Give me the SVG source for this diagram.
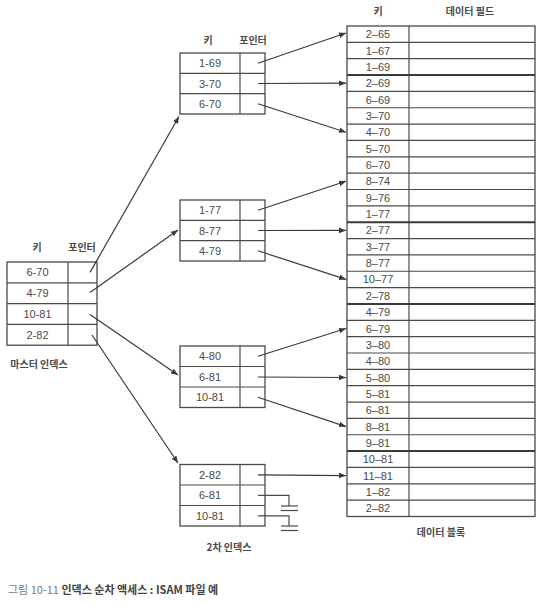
<svg xmlns="http://www.w3.org/2000/svg" width="541" height="604" viewBox="0 0 541 604">
<defs>
<style>
text{font-family:"Noto Sans CJK KR","Liberation Sans",sans-serif;fill:#4a4a4a;}
.n{font-family:"Liberation Sans","Noto Sans CJK KR",sans-serif;font-size:11px;text-anchor:middle;}
.h{font-size:10px;text-anchor:middle;font-weight:bold;}
.box{fill:#fff;stroke:#4a4a4a;stroke-width:1.3;}
.ln{stroke:#4a4a4a;stroke-width:1.2;fill:none;}
.thick{stroke:#3a3a3a;stroke-width:2;}
.ar{stroke:#3a3a3a;stroke-width:1.2;fill:none;marker-end:url(#ah);}
</style>
<marker id="ah" viewBox="0 0 10 10" refX="10" refY="5" markerWidth="7" markerHeight="7" markerUnits="userSpaceOnUse" orient="auto"><path d="M0,1 L10,5 L0,9 z" fill="#3a3a3a"/></marker>
</defs>
<rect width="541" height="604" fill="#fff"/>

<g id="master">
<text class="h" x="37" y="251">키</text>
<text class="h" x="82" y="251">포인터</text>
<rect class="box" x="7" y="262" width="90" height="83.2"/>
<line class="ln" x1="68" y1="262" x2="68" y2="345.2"/>
<line class="ln" x1="7" y1="282.8" x2="97" y2="282.8"/>
<line class="ln" x1="7" y1="303.6" x2="97" y2="303.6"/>
<line class="ln" x1="7" y1="324.4" x2="97" y2="324.4"/>
<text class="n" x="37.5" y="276.4">6-70</text>
<text class="n" x="37.5" y="297.2">4-79</text>
<text class="n" x="37.5" y="318">10-81</text>
<text class="n" x="37.5" y="338.8">2-82</text>
<text class="h" x="39" y="368">마스터 인덱스</text>
</g>

<g id="sec1">
<text class="h" x="208" y="44">키</text>
<text class="h" x="253" y="44">포인터</text>
<rect class="box" x="180" y="53" width="85" height="61"/>
<line class="ln" x1="240" y1="53" x2="240" y2="114"/>
<line class="ln" x1="180" y1="73.3" x2="265" y2="73.3"/>
<line class="ln" x1="180" y1="93.6" x2="265" y2="93.6"/>
<text class="n" x="210" y="67.2">1-69</text>
<text class="n" x="210" y="87.5">3-70</text>
<text class="n" x="210" y="107.8">6-70</text>
</g>

<g id="sec2">
<rect class="box" x="180" y="200" width="85" height="61"/>
<line class="ln" x1="240" y1="200" x2="240" y2="261"/>
<line class="ln" x1="180" y1="220.3" x2="265" y2="220.3"/>
<line class="ln" x1="180" y1="240.6" x2="265" y2="240.6"/>
<text class="n" x="210" y="214.2">1-77</text>
<text class="n" x="210" y="234.5">8-77</text>
<text class="n" x="210" y="254.8">4-79</text>
</g>

<g id="sec3">
<rect class="box" x="180" y="346" width="85" height="61.5"/>
<line class="ln" x1="240" y1="346" x2="240" y2="407.5"/>
<line class="ln" x1="180" y1="366.5" x2="265" y2="366.5"/>
<line class="ln" x1="180" y1="387" x2="265" y2="387"/>
<text class="n" x="210" y="360.3">4-80</text>
<text class="n" x="210" y="380.8">6-81</text>
<text class="n" x="210" y="401.3">10-81</text>
</g>

<g id="sec4">
<rect class="box" x="180" y="464.5" width="85" height="61.5"/>
<line class="ln" x1="240" y1="464.5" x2="240" y2="526"/>
<line class="ln" x1="180" y1="485" x2="265" y2="485"/>
<line class="ln" x1="180" y1="505.5" x2="265" y2="505.5"/>
<text class="n" x="210" y="478.8">2-82</text>
<text class="n" x="210" y="499.3">6-81</text>
<text class="n" x="210" y="519.8">10-81</text>
<text class="h" x="229" y="551">2차 인덱스</text>
</g>

<g id="datablock">
<text class="h" x="378" y="15">키</text>
<text class="h" x="470" y="15">데이터 필드</text>
<rect class="box" x="347" y="26" width="188" height="490.5"/>
<line class="ln" x1="409" y1="26" x2="409" y2="516.5"/>
<g class="ln">
<line x1="347" y1="42.35" x2="535" y2="42.35"/>
<line x1="347" y1="58.7" x2="535" y2="58.7"/>
<line x1="347" y1="91.4" x2="535" y2="91.4"/>
<line x1="347" y1="107.75" x2="535" y2="107.75"/>
<line x1="347" y1="124.1" x2="535" y2="124.1"/>
<line x1="347" y1="140.45" x2="535" y2="140.45"/>
<line x1="347" y1="156.8" x2="535" y2="156.8"/>
<line x1="347" y1="173.15" x2="535" y2="173.15"/>
<line x1="347" y1="189.5" x2="535" y2="189.5"/>
<line x1="347" y1="205.85" x2="535" y2="205.85"/>
<line x1="347" y1="238.55" x2="535" y2="238.55"/>
<line x1="347" y1="254.9" x2="535" y2="254.9"/>
<line x1="347" y1="271.25" x2="535" y2="271.25"/>
<line x1="347" y1="287.6" x2="535" y2="287.6"/>
<line x1="347" y1="320.3" x2="535" y2="320.3"/>
<line x1="347" y1="336.65" x2="535" y2="336.65"/>
<line x1="347" y1="353" x2="535" y2="353"/>
<line x1="347" y1="369.35" x2="535" y2="369.35"/>
<line x1="347" y1="385.7" x2="535" y2="385.7"/>
<line x1="347" y1="402.05" x2="535" y2="402.05"/>
<line x1="347" y1="418.4" x2="535" y2="418.4"/>
<line x1="347" y1="434.75" x2="535" y2="434.75"/>
<line x1="347" y1="467.45" x2="535" y2="467.45"/>
<line x1="347" y1="483.8" x2="535" y2="483.8"/>
<line x1="347" y1="500.15" x2="535" y2="500.15"/>
</g>
<g class="thick">
<line x1="347" y1="75.05" x2="535" y2="75.05"/>
<line x1="347" y1="222.2" x2="535" y2="222.2"/>
<line x1="347" y1="303.95" x2="535" y2="303.95"/>
<line x1="347" y1="451.1" x2="535" y2="451.1"/>
</g>
<text class="n" x="378" y="38.2">2–65</text>
<text class="n" x="378" y="54.5">1–67</text>
<text class="n" x="378" y="70.9">1–69</text>
<text class="n" x="378" y="87.2">2–69</text>
<text class="n" x="378" y="103.6">6–69</text>
<text class="n" x="378" y="119.9">3–70</text>
<text class="n" x="378" y="136.3">4–70</text>
<text class="n" x="378" y="152.6">5–70</text>
<text class="n" x="378" y="169">6–70</text>
<text class="n" x="378" y="185.3">8–74</text>
<text class="n" x="378" y="201.7">9–76</text>
<text class="n" x="378" y="218">1–77</text>
<text class="n" x="378" y="234.4">2–77</text>
<text class="n" x="378" y="250.7">3–77</text>
<text class="n" x="378" y="267.1">8–77</text>
<text class="n" x="378" y="283.4">10–77</text>
<text class="n" x="378" y="299.8">2–78</text>
<text class="n" x="378" y="316.1">4–79</text>
<text class="n" x="378" y="332.5">6–79</text>
<text class="n" x="378" y="348.8">3–80</text>
<text class="n" x="378" y="365.2">4–80</text>
<text class="n" x="378" y="381.5">5–80</text>
<text class="n" x="378" y="397.9">5–81</text>
<text class="n" x="378" y="414.2">6–81</text>
<text class="n" x="378" y="430.6">8–81</text>
<text class="n" x="378" y="446.9">9–81</text>
<text class="n" x="378" y="463.3">10–81</text>
<text class="n" x="378" y="479.6">11–81</text>
<text class="n" x="378" y="496">1–82</text>
<text class="n" x="378" y="512.3">2–82</text>
<text class="h" x="441" y="536">데이터 블록</text>
</g>

<g id="connectors">
<line class="ar" x1="90" y1="272.4" x2="179" y2="116.5"/>
<line class="ar" x1="90" y1="292.5" x2="178" y2="230"/>
<line class="ar" x1="90" y1="314.5" x2="178" y2="375"/>
<line class="ar" x1="92" y1="335" x2="178" y2="463"/>
<line class="ar" x1="258" y1="63.2" x2="346" y2="33"/>
<line class="ar" x1="258" y1="83.5" x2="346" y2="83.2"/>
<line class="ar" x1="258" y1="103.8" x2="346" y2="132.3"/>
<line class="ar" x1="258" y1="210.2" x2="346" y2="181.3"/>
<line class="ar" x1="258" y1="230.5" x2="346" y2="230.4"/>
<line class="ar" x1="258" y1="250.8" x2="346" y2="279.4"/>
<line class="ar" x1="258" y1="356.3" x2="346" y2="328.5"/>
<line class="ar" x1="258" y1="377" x2="346" y2="377.5"/>
<line class="ar" x1="258" y1="397.3" x2="346" y2="426.6"/>
<line class="ar" x1="258" y1="474.8" x2="346" y2="475.6"/>
<polyline class="ln" points="258,495.3 289,495.3 289,506"/>
<line class="ln" x1="281" y1="506" x2="298" y2="506"/>
<line class="ln" x1="281" y1="510.5" x2="298" y2="510.5"/>
<polyline class="ln" points="258,515.8 289,515.8 289,526"/>
<line class="ln" x1="281" y1="526" x2="298" y2="526"/>
<line class="ln" x1="281" y1="530.5" x2="298" y2="530.5"/>
</g>

<g id="caption">
<text x="8" y="594" style="font-size:11px;fill:#777;">그림 10-11 <tspan style="font-weight:bold;fill:#444;"> 인덱스 순차 액세스 : ISAM 파일 예</tspan></text>
</g>
</svg>
